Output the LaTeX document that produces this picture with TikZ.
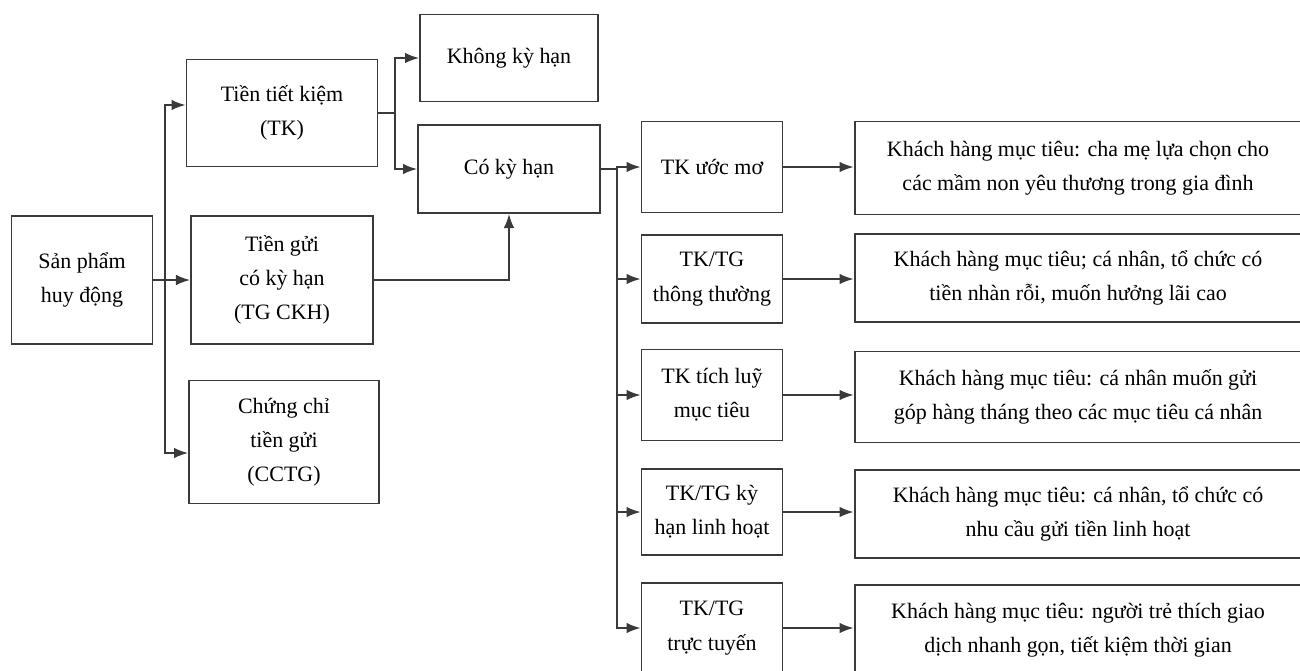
\documentclass[tikz,border=0pt]{standalone}
\usepackage{fontspec}
\setmainfont{Liberation Serif}
\usepackage{tikz}
\usetikzlibrary{positioning,shapes,arrows,arrows.meta,calc}
\definecolor{boxgray}{HTML}{3A3A3A}

\begin{document}
\begin{tikzpicture}[x=0.02cm, y=-0.02cm,
    box/.style={draw=boxgray, line width=1.1pt, align=center, inner sep=2pt,
      font=\fontsize{12.5}{19.5}\selectfont},
    arr/.style={draw=boxgray, line width=0.9pt, -{Latex[length=8pt,width=6pt]}}]
      \useasboundingbox (0,0) rectangle (1300,670);
      \clip (0,0) rectangle (1300,670);

      \node[box, minimum width=2.82cm, minimum height=2.56cm] (spham) at (82,280) {Sản phẩm\\huy động};
      \node[box, minimum width=3.82cm, minimum height=2.14cm] (tk) at (282,113) {Tiền tiết kiệm\\(TK)};
      \node[box, minimum width=3.64cm, minimum height=2.56cm] (tgckh) at (282,280) {Tiền gửi\\có kỳ hạn\\(TG CKH)};
      \node[box, minimum width=3.80cm, minimum height=2.46cm] (cctg) at (284,442) {Chứng chỉ\\tiền gửi\\(CCTG)};
      \node[box, minimum width=3.56cm, minimum height=1.74cm] (kkh) at (509,58) {Không kỳ hạn};
      \node[box, minimum width=3.64cm, minimum height=1.76cm] (ckh) at (509,169) {Có kỳ hạn};

      \node[box, minimum width=2.82cm, minimum height=1.82cm] (m1) at (712,167) {TK ước mơ};
      \node[box, minimum width=2.82cm, minimum height=1.76cm] (m2) at (712,279) {TK/TG\\thông thường};
      \node[box, minimum width=2.82cm, minimum height=1.82cm] (m3) at (712,395) {TK tích luỹ\\mục tiêu};
      \node[box, minimum width=2.82cm, minimum height=1.72cm] (m4) at (712,512) {TK/TG kỳ\\hạn linh hoạt};
      \node[box, minimum width=2.82cm, minimum height=1.80cm] (m5) at (712,628) {TK/TG\\trực tuyến};

      \node[box, minimum width=8.94cm, minimum height=1.86cm] (r1) at (1078,168) {Khách hàng mục tiêu: cha mẹ lựa chọn cho\\các mầm non yêu thương trong gia đình};
      \node[box, minimum width=8.94cm, minimum height=1.76cm] (r2) at (1078,278) {Khách hàng mục tiêu; cá nhân, tổ chức có\\tiền nhàn rỗi, muốn hưởng lãi cao};
      \node[box, minimum width=8.94cm, minimum height=1.82cm] (r3) at (1078,397) {Khách hàng mục tiêu: cá nhân muốn gửi\\góp hàng tháng theo các mục tiêu cá nhân};
      \node[box, minimum width=8.94cm, minimum height=1.76cm] (r4) at (1078,514) {Khách hàng mục tiêu: cá nhân, tổ chức có\\nhu cầu gửi tiền linh hoạt};
      \node[box, minimum width=8.94cm, minimum height=1.80cm] (r5) at (1078,630) {Khách hàng mục tiêu: người trẻ thích giao\\dịch nhanh gọn, tiết kiệm thời gian};

      \coordinate (bus1) at (165,280);
      \coordinate (bus2) at (395,113);
      \coordinate (bus3) at (617,169);

      \draw[arr] (spham.east) -- (tgckh.west);
      \draw[arr] (bus1) |- ($ (tk.west) + (0,-8) $);
      \draw[arr] (bus1) |- ($ (cctg.west) + (0,11) $);

      \draw[arr] (tk.east) -- (bus2) |- (kkh.west);
      \draw[arr] (bus2) |- (ckh.west);
      \draw[arr] (tgckh.east) -| (ckh.south);

      \draw[arr] (ckh.east) -- (bus3) |- (m1.west);
      \foreach \i in {2,...,5} {
        \draw[arr] (bus3) |- (m\i.west);
      }
      \foreach \i in {1,...,5} {
        \draw[arr] (m\i.east) -- (m\i.east -| r\i.west);
      }
    \end{tikzpicture}
\end{document}
